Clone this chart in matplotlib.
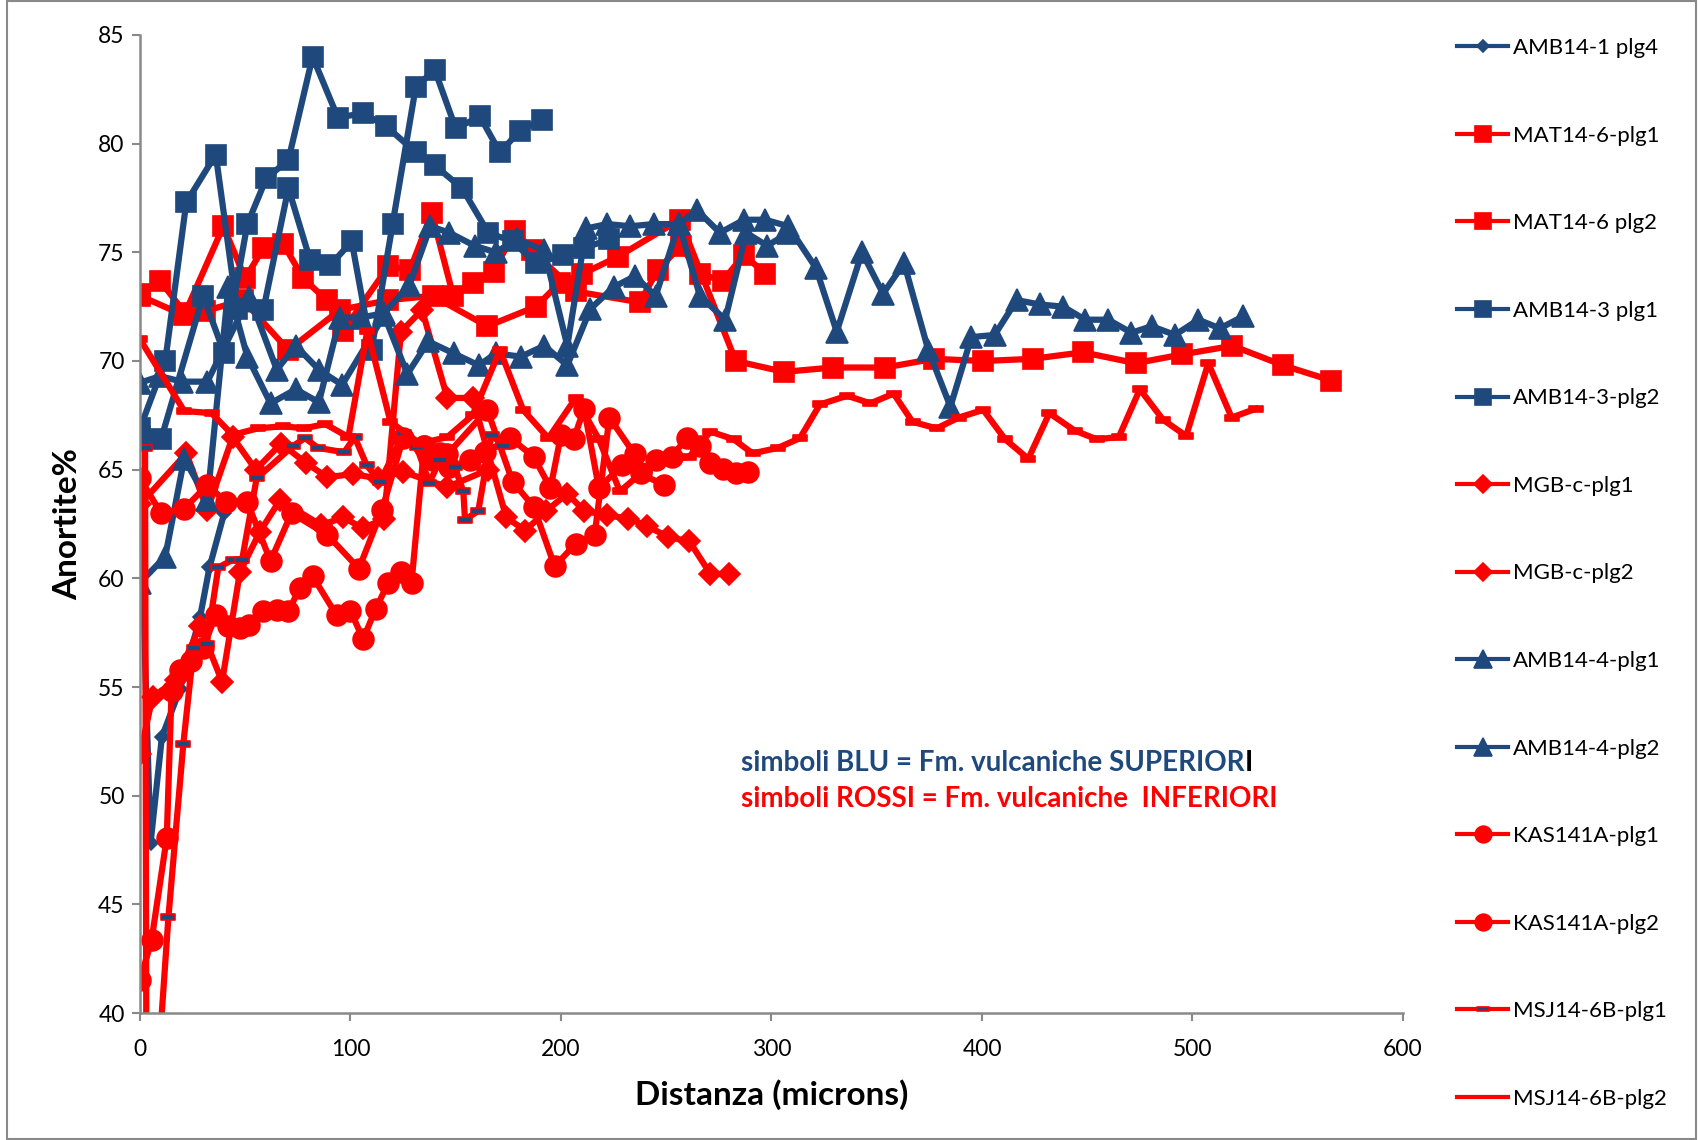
import matplotlib.pyplot as plt
from matplotlib.path import Path
from matplotlib.patches import Rectangle

plt.rcParams['font.family'] = ['Lato', 'DejaVu Sans']

BLUE = '#1F497D'
RED = '#FF0000'

# ---- DATA ----
amb14_1_plg4_x = [0, 5, 10.4, 19, 28.5, 33, 40]
amb14_1_plg4_y = [64.2, 47.8, 52.7, 54.9, 58.2, 60.5, 63.0]

mat14_6_plg1_x = [0, 21, 31, 49, 70.5, 95, 118, 139, 165, 188, 199.5, 210, 227, 256.5, 283, 306,
                  329, 354, 377, 400.6, 424, 448, 473, 495, 519, 543, 566]
mat14_6_plg1_y = [73.0, 72.1, 72.3, 72.8, 70.5, 72.35, 72.8, 73.0, 71.6, 72.5, 73.6, 74.0, 74.8, 76.5, 70.0, 69.5,
                  69.7, 69.7, 70.1, 70.0, 70.1, 70.4, 69.9, 70.3, 70.7, 69.8, 69.1]

mat14_6_plg2_x = [0, 9.5, 21.4, 39.6, 50, 58.6, 68, 77.6, 88.7, 96.6, 118, 128.3, 138.6, 148.8, 158.3, 168,
                  178, 186, 207, 237.5, 246, 257, 266, 277, 287, 297]
mat14_6_plg2_y = [73.1, 73.7, 72.2, 76.2, 73.8, 75.2, 75.4, 73.8, 72.8, 71.4, 74.35, 74.2, 76.8, 73.0, 73.6, 74.1,
                  76.0, 75.1, 73.2, 72.7, 74.2, 75.3, 74.0, 73.7, 74.9, 74.0]

amb14_3_plg1_x = [0, 10, 30, 40, 51, 60, 70.5, 82, 94, 106, 117, 131, 140, 153, 165.5, 177, 188, 201, 211, 223]
amb14_3_plg1_y = [66.5, 66.4, 73.0, 70.35, 76.3, 78.4, 79.25, 84.0, 81.2, 81.4, 80.8, 79.6, 79.0, 77.95, 75.9,
                  75.5, 74.5, 74.9, 75.2, 75.6]

amb14_3_plg2_x = [0, 12, 22, 36, 46, 58.6, 70.5, 80.8, 90.3, 100.6, 110, 120, 131, 140, 150, 161.5, 171, 180.5, 191]
amb14_3_plg2_y = [66.9, 70.0, 77.3, 79.5, 72.4, 72.35, 77.95, 74.65, 74.4, 75.5, 70.5, 76.3, 82.6, 83.4, 80.7,
                  81.25, 79.6, 80.6, 81.1]

mgb_c_plg1_x = [0, 22, 32, 44, 55, 67, 79, 89, 101, 113, 125, 146, 165.5]
mgb_c_plg1_y = [63.4, 65.75, 63.15, 66.5, 65.0, 66.2, 65.3, 64.65, 64.8, 64.6, 64.9, 64.2, 65.0]

mgb_c_plg2_x = [0, 6, 17, 28.5, 39, 47.5, 57, 66.5, 86, 96.6, 106, 116, 124, 134, 146, 158, 174, 183, 193, 203,
                211, 222, 232, 241, 251, 261, 271, 280]
mgb_c_plg2_y = [51.9, 54.55, 55.3, 57.8, 55.25, 60.3, 62.15, 63.6, 62.45, 62.8, 62.3, 62.75, 71.35, 72.35, 68.3,
                68.3, 62.8, 62.2, 63.1, 63.9, 63.1, 62.9, 62.75, 62.4, 61.9, 61.7, 60.2, 60.2]

amb14_4_plg1_x = [0, 9.5, 20, 32, 52, 65, 74, 85, 96, 116, 127, 137, 149, 161, 169, 181, 192, 203, 214, 225,
                  235, 245, 256, 266, 278, 288, 298, 308]
amb14_4_plg1_y = [69.0, 69.3, 69.05, 69.05, 72.96, 69.6, 70.7, 69.6, 68.9, 72.1, 69.4, 70.9, 70.35, 69.8, 70.35,
                  70.2, 70.7, 69.8, 72.4, 73.4, 73.9, 73.0, 76.3, 73.0, 71.9, 75.9, 75.3, 75.9]

amb14_4_plg2_x = [0, 12, 21, 32, 42, 51, 62, 74, 85, 95, 105, 116, 128, 138, 147, 159, 169, 179, 192, 203, 212,
                  222, 233, 244, 256, 264.5, 275.5, 287, 297, 308, 321, 331, 343, 353, 363, 374.5, 385, 395, 406,
                  416.5, 427.6, 438.6, 449, 460, 471, 480.6, 491.7, 502.8, 513, 524]
amb14_4_plg2_y = [59.8, 61.0, 65.5, 63.6, 73.4, 70.2, 68.05, 68.7, 68.1, 72.0, 72.0, 72.2, 73.5, 76.2, 75.9,
                  75.3, 75.0, 75.6, 75.1, 70.7, 76.1, 76.3, 76.2, 76.3, 76.3, 76.95, 75.9, 76.5, 76.5, 76.2,
                  74.3, 71.35, 75.0, 73.1, 74.5, 70.5, 67.9, 71.1, 71.2, 72.8, 72.6, 72.5, 71.9, 71.9, 71.3,
                  71.6, 71.2, 71.9, 71.5, 72.05]

kas141a_plg1_x = [0, 10, 21, 32, 41, 51, 62, 72, 89, 104, 115, 125, 135, 142.5, 147, 157, 164, 176, 187, 195,
                  200, 206, 211, 218, 229, 249]
kas141a_plg1_y = [64.6, 63.0, 63.2, 64.3, 63.5, 63.5, 60.8, 63.0, 62.0, 60.45, 63.15, 66.45, 66.1, 65.75, 65.1,
                  65.45, 65.8, 66.45, 65.6, 64.15, 66.6, 66.4, 67.8, 64.15, 65.2, 64.3]

kas141a_plg2_x = [0, 5.5, 12.7, 15, 19, 24, 30, 36, 42, 47.5, 52, 58.6, 65, 70.5, 76, 82, 93.4, 100, 106, 112,
                  118, 124, 129, 135, 139, 146, 165, 177, 187, 197, 207, 216, 223, 235, 238, 245, 252.6, 259.7,
                  266, 271, 277, 283, 289]
kas141a_plg2_y = [41.5, 43.35, 48.05, 54.8, 55.8, 56.2, 56.8, 58.3, 57.8, 57.7, 57.85, 58.5, 58.55, 58.5, 59.55,
                  60.1, 58.3, 58.5, 57.2, 58.6, 59.8, 60.3, 59.8, 66.1, 65.45, 65.7, 67.75, 64.45, 63.3, 60.55,
                  61.6, 62.0, 67.4, 65.7, 64.85, 65.45, 65.6, 66.45, 66.1, 65.3, 65.05, 64.85, 64.9]

# second point lies below the axis floor (line runs off the chart)
msj14_6b_plg1_x = [2.4, 3.2, 13.5, 20.6, 25.5, 31.7, 37.2, 44, 48.5, 55.4, 72.8, 78.4, 84.7, 97, 102, 107.7,
                   114, 125.5, 131.4, 137.5, 142.5, 149.6, 153.6, 154.4, 160.7, 167, 172.6]
msj14_6b_plg1_y = [66.0, 30.0, 44.4, 52.4, 56.8, 57.0, 60.5, 60.85, 60.85, 64.6, 66.1, 66.45, 66.0, 65.8, 66.5,
                   65.2, 64.45, 66.7, 66.06, 64.4, 65.45, 65.1, 64.0, 62.7, 63.1, 66.6, 66.1]

msj14_6b_plg2_x = [0, 21, 34, 44, 56, 68, 78, 88, 99, 108, 119, 133, 146, 158, 171, 182, 194, 207, 218, 228,
                   240, 250, 261, 271, 282, 291, 303, 313.5, 323, 336, 347, 358, 367, 378.5, 389, 400.6, 411,
                   422, 432, 444, 454.5, 465, 475, 486, 497, 507.5, 518.6, 530]
msj14_6b_plg2_y = [71.0, 67.7, 67.6, 66.6, 66.9, 67.0, 66.9, 67.1, 66.5, 71.4, 67.2, 66.2, 66.5, 67.5, 70.5,
                   67.75, 66.45, 68.3, 66.4, 64.0, 65.0, 65.4, 65.6, 66.75, 66.4, 65.75, 66.0, 66.45, 68.0, 68.4,
                   68.05, 68.5, 67.2, 66.9, 67.4, 67.75, 66.4, 65.5, 67.6, 66.8, 66.4, 66.5, 68.7, 67.3, 66.55,
                   69.9, 67.4, 67.8]

# small flat bar marker used for the MSJ series
dash = Path([(-0.5, -0.2), (0.5, -0.2), (0.5, 0.2), (-0.5, 0.2), (-0.5, -0.2)],
            [Path.MOVETO, Path.LINETO, Path.LINETO, Path.LINETO, Path.CLOSEPOLY])

series = [
    ('AMB14-1 plg4', amb14_1_plg4_x, amb14_1_plg4_y, BLUE, 'D', 7.5, BLUE),
    ('MAT14-6-plg1', mat14_6_plg1_x, mat14_6_plg1_y, RED, 's', 15, RED),
    ('MAT14-6 plg2', mat14_6_plg2_x, mat14_6_plg2_y, RED, 's', 15, RED),
    ('AMB14-3 plg1', amb14_3_plg1_x, amb14_3_plg1_y, BLUE, 's', 15, BLUE),
    ('AMB14-3-plg2', amb14_3_plg2_x, amb14_3_plg2_y, BLUE, 's', 15, BLUE),
    ('MGB-c-plg1', mgb_c_plg1_x, mgb_c_plg1_y, RED, 'D', 11, RED),
    ('MGB-c-plg2', mgb_c_plg2_x, mgb_c_plg2_y, RED, 'D', 11, RED),
    ('AMB14-4-plg1', amb14_4_plg1_x, amb14_4_plg1_y, BLUE, '^', 16, BLUE),
    ('AMB14-4-plg2', amb14_4_plg2_x, amb14_4_plg2_y, BLUE, '^', 16, BLUE),
    ('KAS141A-plg1', kas141a_plg1_x, kas141a_plg1_y, RED, 'o', 15, RED),
    ('KAS141A-plg2', kas141a_plg2_x, kas141a_plg2_y, RED, 'o', 15, RED),
    ('MSJ14-6B-plg1', msj14_6b_plg1_x, msj14_6b_plg1_y, RED, dash, 10, BLUE),
    ('MSJ14-6B-plg2', msj14_6b_plg2_x, msj14_6b_plg2_y, RED, dash, 10, RED),
]

# ---- PLOTTING ----
fig = plt.figure(figsize=(17.01, 11.40), dpi=100)
ax = fig.add_axes([0.0823, 0.1114, 0.7425, 0.8579])

for name, xs, ys, col, mk, ms, face in series:
    ax.plot(xs, ys, color=col, lw=4.5, marker=mk, markersize=ms,
            markerfacecolor=face, markeredgecolor=col, markeredgewidth=1.2, label=name)

ax.set_xlim(0, 600)
ax.set_ylim(40, 85)
ax.set_xticks(range(0, 601, 100))
ax.set_yticks(range(40, 86, 5))
for s in ['top', 'right']:
    ax.spines[s].set_visible(False)
for s in ['left', 'bottom']:
    ax.spines[s].set_color('#898989')
    ax.spines[s].set_linewidth(1.8)
ax.tick_params(axis='both', colors='#898989', labelcolor='black', length=6, width=1.5, labelsize=16.5)
ax.tick_params(axis='x', pad=13)
ax.tick_params(axis='y', pad=5)

ax.set_xlabel('Distanza (microns)', fontsize=24, fontweight='bold')
ax.set_ylabel('Anortite%', fontsize=24, fontweight='bold')
ax.xaxis.set_label_coords(0.5, -0.068)
ax.yaxis.set_label_coords(-0.046, 0.5)

t1 = ax.text(0.476, 0.2555, 'simboli BLU = Fm. vulcaniche SUPERIOR', transform=ax.transAxes,
             color=BLUE, fontsize=20, fontweight='bold', va='center')
ax.annotate('I', xy=(1, 0.5), xycoords=t1, va='center', ha='left',
            color='black', fontsize=20, fontweight='bold')
ax.text(0.476, 0.2187, 'simboli ROSSI = Fm. vulcaniche  INFERIORI', transform=ax.transAxes,
        color=RED, fontsize=20, fontweight='bold', va='center')

leg = fig.legend(loc='upper left', bbox_to_anchor=(0.8566, 0.9666), frameon=False, fontsize=16,
                 borderpad=0, borderaxespad=0, handlelength=2.3, handletextpad=0.2, labelspacing=3.04,
                 markerscale=0.8)
for ln in leg.get_lines():
    ln.set_linewidth(3.0)
# the red bar on the red line does not show in the key
leg.get_lines()[-1].set_marker('None')

# outer chart frame
fig.patches.append(Rectangle((0.004, 0.001), 0.993, 0.998, transform=fig.transFigure,
                             fill=False, edgecolor='#898989', linewidth=1.5))

fig.savefig('out.png', dpi=100)
